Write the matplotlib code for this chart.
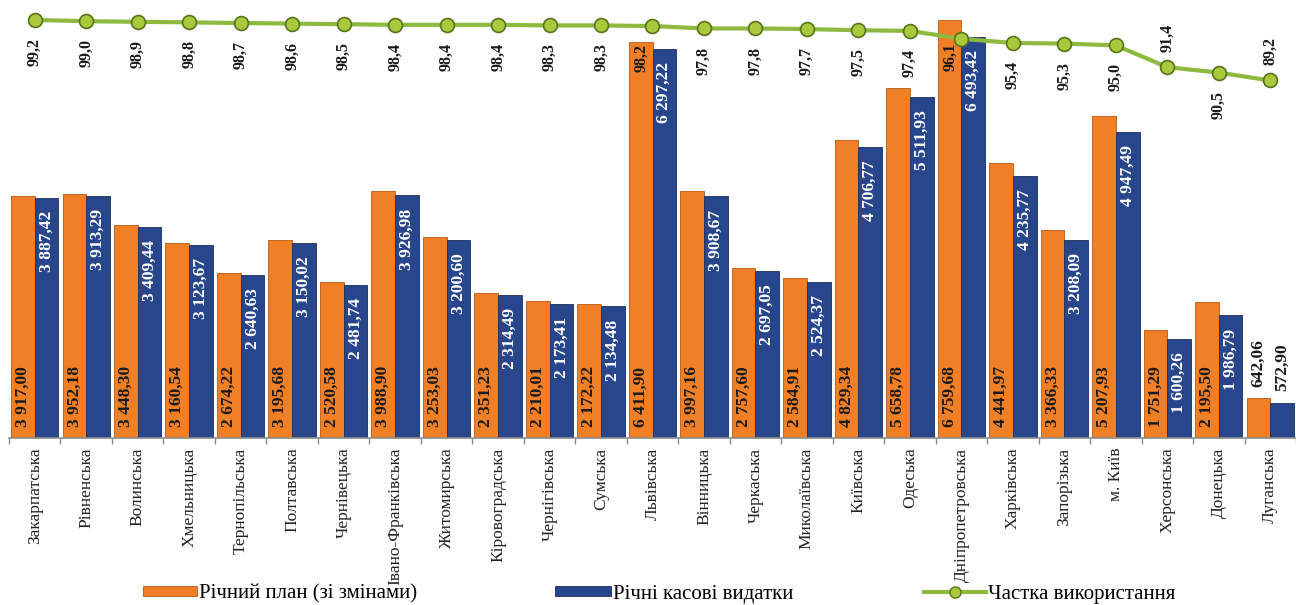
import matplotlib
matplotlib.use('Agg')
import matplotlib.pyplot as plt
from matplotlib.patches import Patch
from matplotlib.lines import Line2D
import numpy as np

regions = ['Закарпатська', 'Рівненська', 'Волинська', 'Хмельницька', 'Тернопільська',
           'Полтавська', 'Чернівецька', 'Івано-Франківська', 'Житомирська', 'Кіровоградська',
           'Чернігівська', 'Сумська', 'Львівська', 'Вінницька', 'Черкаська',
           'Миколаївська', 'Київська', 'Одеська', 'Дніпропетровська', 'Харківська',
           'Запорізька', 'м. Київ', 'Херсонська', 'Донецька', 'Луганська']

plan = [3917.00, 3952.18, 3448.30, 3160.54, 2674.22,
        3195.68, 2520.58, 3988.90, 3253.03, 2351.23,
        2210.01, 2172.22, 6411.90, 3997.16, 2757.60,
        2584.91, 4829.34, 5658.78, 6759.68, 4441.97,
        3366.33, 5207.93, 1751.29, 2195.50, 642.06]

spent = [3887.42, 3913.29, 3409.44, 3123.67, 2640.63,
         3150.02, 2481.74, 3926.98, 3200.60, 2314.49,
         2173.41, 2134.48, 6297.22, 3908.67, 2697.05,
         2524.37, 4706.77, 5511.93, 6493.42, 4235.77,
         3208.09, 4947.49, 1600.26, 1986.79, 572.90]

share = [99.2, 99.0, 98.9, 98.8, 98.7,
         98.6, 98.5, 98.4, 98.4, 98.4,
         98.3, 98.3, 98.2, 97.8, 97.8,
         97.7, 97.5, 97.4, 96.1, 95.4,
         95.3, 95.0, 91.4, 90.5, 89.2]

legend_labels = ['Річний план (зі змінами)', 'Річні касові видатки', 'Частка використання']

ORANGE = '#F07F26'
BLUE = '#27468C'
GREEN = '#8DBA3E'
SERIF = 'Liberation Serif'


def fmt(v):
    return f"{v:,.2f}".replace(",", " ").replace(".", ",")


fig = plt.figure(figsize=(12.96, 6.05), dpi=100)
ax = fig.add_axes([9/1296, (605-438)/605, (1296-9)/1296, 428/605])

x = np.arange(len(regions))
w = 0.46

ax.bar(x - w/2, plan, w, color=ORANGE, edgecolor='#B85A16', linewidth=0.6)
ax.bar(x + w/2, spent, w, color=BLUE, edgecolor='#1B2F5C', linewidth=0.6)

ax.set_xlim(-0.5, 24.33)
ax.set_ylim(0, 6925)

for i in range(len(regions)):
    if plan[i] < 1000:
        # short bars: labels sit above
        ax.annotate(fmt(plan[i]), (x[i] - w/2, plan[i]), xytext=(0, 8), textcoords='offset points',
                    rotation=90, ha='center', va='bottom', fontsize=12.5, fontweight='bold',
                    family=SERIF, color='#1a1a1a')
        ax.annotate(fmt(spent[i]), (x[i] + w/2, spent[i]), xytext=(0, 8), textcoords='offset points',
                    rotation=90, ha='center', va='bottom', fontsize=12.5, fontweight='bold',
                    family=SERIF, color='#1a1a1a')
    else:
        ax.annotate(fmt(plan[i]), (x[i] - w/2, 0), xytext=(0, 8), textcoords='offset points',
                    rotation=90, ha='center', va='bottom', fontsize=12.5, fontweight='bold',
                    family=SERIF, color='#1a1a1a')
        ax.annotate(fmt(spent[i]), (x[i] + w/2, spent[i]), xytext=(0, -9.5), textcoords='offset points',
                    rotation=90, ha='center', va='top', fontsize=12.5, fontweight='bold',
                    family=SERIF, color='white')

for s in ['top', 'left', 'right']:
    ax.spines[s].set_visible(False)
ax.spines['bottom'].set_color('#8c8c8c')
ax.spines['bottom'].set_linewidth(1.2)
ax.set_yticks([])
ax.set_xticks(x)
ax.set_xticklabels(regions, rotation=90, fontsize=12.5, family=SERIF, color='#222222')
ax.tick_params(axis='x', which='major', length=0, pad=7)
ax.set_xticks(np.arange(-0.5, len(regions), 1), minor=True)
ax.tick_params(axis='x', which='minor', length=4, color='#8c8c8c', width=1)

ax2 = ax.twinx()
ax2.set_ylim(30.11, 100.85)
ax2.plot(x, share, color=GREEN, linewidth=3, marker='o', markersize=10,
         markerfacecolor='#A9C83C', markeredgecolor='#56741C', markeredgewidth=1.2)
ax2.axis('off')

for i in range(len(regions)):
    xi = x[i]
    dy = -13
    if i in (12, 18):
        # these labels sit on the orange bar
        xi = x[i] - 0.22
    if i == 18:
        dy = -3
    if i in (22, 24):
        ax2.annotate(f"{share[i]:.1f}".replace(".", ","), (xi, share[i]), xytext=(0, 11),
                     textcoords='offset points', rotation=90, ha='center', va='bottom',
                     fontsize=11.5, fontweight='bold', family=SERIF, color='#1a1a1a')
    else:
        ax2.annotate(f"{share[i]:.1f}".replace(".", ","), (xi, share[i]), xytext=(0, dy),
                     textcoords='offset points', rotation=90, ha='center', va='top',
                     fontsize=11.5, fontweight='bold', family=SERIF, color='#1a1a1a')

handles = [Patch(facecolor=ORANGE, edgecolor='#B85A16', linewidth=0.6),
           Patch(facecolor=BLUE, edgecolor='#1B2F5C', linewidth=0.6),
           Line2D([0], [0], color=GREEN, linewidth=3, marker='o', markersize=8,
                  markerfacecolor='#A9C83C', markeredgecolor='#56741C')]
starts = [143, 555, 924]
hlens = [2.6, 2.7, 3.0]
for h, lab, sx, hl in zip(handles, legend_labels, starts, hlens):
    fig.legend([h], [lab], loc='center left', bbox_to_anchor=(sx/1296, 1 - 594/605),
               frameon=False, borderpad=0, borderaxespad=0, handlelength=hl,
               handleheight=0.4, handletextpad=0.08,
               prop={'family': SERIF, 'size': 15})

fig.savefig('out.png', dpi=100)
